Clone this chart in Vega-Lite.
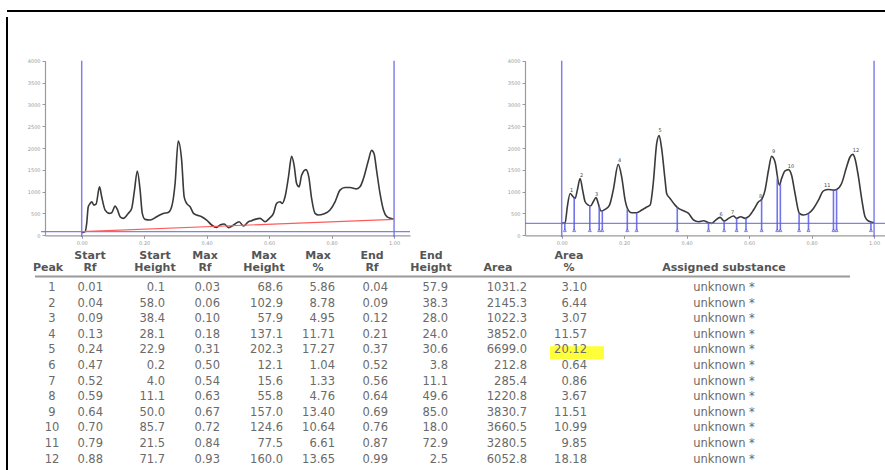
{
  "$schema": "https://vega.github.io/schema/vega-lite/v6.json",
  "width": 878,
  "height": 459,
  "autosize": "none",
  "padding": {"left": 7, "top": 11, "right": 0, "bottom": 0},
  "background": "#ffffff",
  "config": {
    "view": {"stroke": null},
    "text": {"font": "DejaVu Sans"},
    "axis": {"labelFont": "DejaVu Sans", "labelFontSize": 5, "labelColor": "#9a9a9a", "domainColor": "#9a9a9a", "tickColor": "#9a9a9a", "tickSize": 3, "labelPadding": 2, "grid": false, "domainWidth": 1.2}
  },
  "datasets": {
    "curveL": [
      {"rf": 0, "v": 61}, {"rf": 0.011, "v": 84}, {"rf": 0.016, "v": 274}, {"rf": 0.021, "v": 654}, {"rf": 0.027, "v": 730}, {"rf": 0.032, "v": 768}, {"rf": 0.039, "v": 692}, {"rf": 0.046, "v": 714}, {"rf": 0.057, "v": 1110}, {"rf": 0.064, "v": 882}, {"rf": 0.075, "v": 578}, {"rf": 0.089, "v": 502}, {"rf": 0.096, "v": 517}, {"rf": 0.107, "v": 669}, {"rf": 0.114, "v": 593}, {"rf": 0.123, "v": 426}, {"rf": 0.133, "v": 388}, {"rf": 0.149, "v": 502}, {"rf": 0.16, "v": 616}, {"rf": 0.169, "v": 1034}, {"rf": 0.178, "v": 1474}, {"rf": 0.187, "v": 1034}, {"rf": 0.194, "v": 502}, {"rf": 0.203, "v": 365}, {"rf": 0.219, "v": 350}, {"rf": 0.24, "v": 426}, {"rf": 0.261, "v": 502}, {"rf": 0.277, "v": 524}, {"rf": 0.288, "v": 654}, {"rf": 0.299, "v": 1186}, {"rf": 0.309, "v": 2158}, {"rf": 0.32, "v": 1718}, {"rf": 0.328, "v": 882}, {"rf": 0.336, "v": 730}, {"rf": 0.347, "v": 654}, {"rf": 0.358, "v": 502}, {"rf": 0.368, "v": 464}, {"rf": 0.384, "v": 426}, {"rf": 0.4, "v": 350}, {"rf": 0.416, "v": 236}, {"rf": 0.432, "v": 182}, {"rf": 0.443, "v": 236}, {"rf": 0.456, "v": 258}, {"rf": 0.47, "v": 175}, {"rf": 0.486, "v": 236}, {"rf": 0.504, "v": 312}, {"rf": 0.518, "v": 213}, {"rf": 0.534, "v": 312}, {"rf": 0.544, "v": 334}, {"rf": 0.555, "v": 365}, {"rf": 0.571, "v": 388}, {"rf": 0.587, "v": 312}, {"rf": 0.601, "v": 388}, {"rf": 0.614, "v": 502}, {"rf": 0.624, "v": 730}, {"rf": 0.635, "v": 768}, {"rf": 0.642, "v": 730}, {"rf": 0.651, "v": 882}, {"rf": 0.662, "v": 1338}, {"rf": 0.672, "v": 1809}, {"rf": 0.68, "v": 1604}, {"rf": 0.688, "v": 1186}, {"rf": 0.696, "v": 1110}, {"rf": 0.704, "v": 1376}, {"rf": 0.718, "v": 1505}, {"rf": 0.727, "v": 1338}, {"rf": 0.736, "v": 844}, {"rf": 0.747, "v": 502}, {"rf": 0.758, "v": 464}, {"rf": 0.774, "v": 486}, {"rf": 0.795, "v": 578}, {"rf": 0.811, "v": 768}, {"rf": 0.827, "v": 1034}, {"rf": 0.843, "v": 1094}, {"rf": 0.859, "v": 1094}, {"rf": 0.88, "v": 1064}, {"rf": 0.891, "v": 1110}, {"rf": 0.902, "v": 1300}, {"rf": 0.918, "v": 1718}, {"rf": 0.928, "v": 1946}, {"rf": 0.936, "v": 1870}, {"rf": 0.944, "v": 1490}, {"rf": 0.955, "v": 958}, {"rf": 0.966, "v": 578}, {"rf": 0.977, "v": 426}, {"rf": 0.989, "v": 388}, {"rf": 1.0, "v": 365}
    ],
    "curveR": [
      {"rf": 0, "v": 274}, {"rf": 0.011, "v": 289}, {"rf": 0.018, "v": 654}, {"rf": 0.027, "v": 958}, {"rf": 0.035, "v": 897}, {"rf": 0.043, "v": 844}, {"rf": 0.05, "v": 1034}, {"rf": 0.059, "v": 1300}, {"rf": 0.067, "v": 1034}, {"rf": 0.075, "v": 768}, {"rf": 0.085, "v": 692}, {"rf": 0.093, "v": 676}, {"rf": 0.101, "v": 768}, {"rf": 0.11, "v": 866}, {"rf": 0.117, "v": 730}, {"rf": 0.126, "v": 555}, {"rf": 0.139, "v": 593}, {"rf": 0.153, "v": 692}, {"rf": 0.165, "v": 1034}, {"rf": 0.181, "v": 1626}, {"rf": 0.192, "v": 1338}, {"rf": 0.203, "v": 806}, {"rf": 0.213, "v": 578}, {"rf": 0.224, "v": 517}, {"rf": 0.24, "v": 517}, {"rf": 0.256, "v": 578}, {"rf": 0.27, "v": 638}, {"rf": 0.283, "v": 692}, {"rf": 0.293, "v": 1186}, {"rf": 0.304, "v": 2098}, {"rf": 0.312, "v": 2288}, {"rf": 0.32, "v": 1984}, {"rf": 0.331, "v": 1262}, {"rf": 0.336, "v": 958}, {"rf": 0.347, "v": 844}, {"rf": 0.363, "v": 692}, {"rf": 0.374, "v": 616}, {"rf": 0.39, "v": 562}, {"rf": 0.406, "v": 502}, {"rf": 0.422, "v": 350}, {"rf": 0.438, "v": 312}, {"rf": 0.454, "v": 334}, {"rf": 0.47, "v": 289}, {"rf": 0.48, "v": 274}, {"rf": 0.491, "v": 334}, {"rf": 0.507, "v": 410}, {"rf": 0.52, "v": 327}, {"rf": 0.534, "v": 388}, {"rf": 0.55, "v": 441}, {"rf": 0.56, "v": 388}, {"rf": 0.573, "v": 426}, {"rf": 0.587, "v": 388}, {"rf": 0.598, "v": 426}, {"rf": 0.614, "v": 578}, {"rf": 0.63, "v": 768}, {"rf": 0.64, "v": 821}, {"rf": 0.651, "v": 1034}, {"rf": 0.662, "v": 1490}, {"rf": 0.672, "v": 1809}, {"rf": 0.683, "v": 1680}, {"rf": 0.697, "v": 1148}, {"rf": 0.704, "v": 1300}, {"rf": 0.715, "v": 1474}, {"rf": 0.726, "v": 1505}, {"rf": 0.736, "v": 1376}, {"rf": 0.747, "v": 958}, {"rf": 0.761, "v": 502}, {"rf": 0.774, "v": 464}, {"rf": 0.79, "v": 502}, {"rf": 0.806, "v": 616}, {"rf": 0.822, "v": 806}, {"rf": 0.838, "v": 1018}, {"rf": 0.854, "v": 1049}, {"rf": 0.87, "v": 1034}, {"rf": 0.88, "v": 1049}, {"rf": 0.896, "v": 1186}, {"rf": 0.912, "v": 1566}, {"rf": 0.923, "v": 1794}, {"rf": 0.932, "v": 1854}, {"rf": 0.939, "v": 1756}, {"rf": 0.95, "v": 1338}, {"rf": 0.961, "v": 806}, {"rf": 0.971, "v": 426}, {"rf": 0.982, "v": 327}, {"rf": 1.0, "v": 289}
    ],
    "bounds": [
      {"rf": 0.01, "lo": 115, "h": 289}, {"rf": 0.04, "lo": 115, "h": 860}, {"rf": 0.09, "lo": 115, "h": 690}, {"rf": 0.12, "lo": 115, "h": 670}, {"rf": 0.13, "lo": 115, "h": 570}, {"rf": 0.21, "lo": 115, "h": 600}, {"rf": 0.24, "lo": 115, "h": 517}, {"rf": 0.37, "lo": 115, "h": 640}, {"rf": 0.47, "lo": 115, "h": 289}, {"rf": 0.52, "lo": 115, "h": 327}, {"rf": 0.56, "lo": 115, "h": 388}, {"rf": 0.59, "lo": 115, "h": 400}, {"rf": 0.64, "lo": 115, "h": 821}, {"rf": 0.69, "lo": 115, "h": 1300}, {"rf": 0.7, "lo": 115, "h": 1180}, {"rf": 0.76, "lo": 115, "h": 502}, {"rf": 0.79, "lo": 115, "h": 502}, {"rf": 0.87, "lo": 115, "h": 1034}, {"rf": 0.88, "lo": 115, "h": 1049}, {"rf": 0.99, "lo": 115, "h": 300}
    ],
    "frontLines": [
      {"rf": 0, "lo": -40, "hi": 4000}, {"rf": 1, "lo": -40, "hi": 4000}
    ],
    "peakLabels": [
      {"n": "1", "rf": 0.032, "v": 1049}, {"n": "2", "rf": 0.064, "v": 1376}, {"n": "3", "rf": 0.112, "v": 942}, {"n": "4", "rf": 0.185, "v": 1718}, {"n": "5", "rf": 0.315, "v": 2403}, {"n": "6", "rf": 0.51, "v": 479}, {"n": "7", "rf": 0.547, "v": 524}, {"n": "8", "rf": 0.637, "v": 904}, {"n": "9", "rf": 0.678, "v": 1923}, {"n": "10", "rf": 0.734, "v": 1589}, {"n": "11", "rf": 0.85, "v": 1148}, {"n": "12", "rf": 0.942, "v": 1961}
    ],
    "peaks": [
      {"Peak": 1, "StartRf": 0.01, "StartHeight": 0.1, "MaxRf": 0.03, "MaxHeight": 68.6, "MaxPct": 5.86, "EndRf": 0.04, "EndHeight": 57.9, "Area": 1031.2, "AreaPct": 3.10, "Assigned": "unknown *"},
      {"Peak": 2, "StartRf": 0.04, "StartHeight": 58.0, "MaxRf": 0.06, "MaxHeight": 102.9, "MaxPct": 8.78, "EndRf": 0.09, "EndHeight": 38.3, "Area": 2145.3, "AreaPct": 6.44, "Assigned": "unknown *"},
      {"Peak": 3, "StartRf": 0.09, "StartHeight": 38.4, "MaxRf": 0.10, "MaxHeight": 57.9, "MaxPct": 4.95, "EndRf": 0.12, "EndHeight": 28.0, "Area": 1022.3, "AreaPct": 3.07, "Assigned": "unknown *"},
      {"Peak": 4, "StartRf": 0.13, "StartHeight": 28.1, "MaxRf": 0.18, "MaxHeight": 137.1, "MaxPct": 11.71, "EndRf": 0.21, "EndHeight": 24.0, "Area": 3852.0, "AreaPct": 11.57, "Assigned": "unknown *"},
      {"Peak": 5, "StartRf": 0.24, "StartHeight": 22.9, "MaxRf": 0.31, "MaxHeight": 202.3, "MaxPct": 17.27, "EndRf": 0.37, "EndHeight": 30.6, "Area": 6699.0, "AreaPct": 20.12, "Assigned": "unknown *"},
      {"Peak": 6, "StartRf": 0.47, "StartHeight": 0.2, "MaxRf": 0.50, "MaxHeight": 12.1, "MaxPct": 1.04, "EndRf": 0.52, "EndHeight": 3.8, "Area": 212.8, "AreaPct": 0.64, "Assigned": "unknown *"},
      {"Peak": 7, "StartRf": 0.52, "StartHeight": 4.0, "MaxRf": 0.54, "MaxHeight": 15.6, "MaxPct": 1.33, "EndRf": 0.56, "EndHeight": 11.1, "Area": 285.4, "AreaPct": 0.86, "Assigned": "unknown *"},
      {"Peak": 8, "StartRf": 0.59, "StartHeight": 11.1, "MaxRf": 0.63, "MaxHeight": 55.8, "MaxPct": 4.76, "EndRf": 0.64, "EndHeight": 49.6, "Area": 1220.8, "AreaPct": 3.67, "Assigned": "unknown *"},
      {"Peak": 9, "StartRf": 0.64, "StartHeight": 50.0, "MaxRf": 0.67, "MaxHeight": 157.0, "MaxPct": 13.40, "EndRf": 0.69, "EndHeight": 85.0, "Area": 3830.7, "AreaPct": 11.51, "Assigned": "unknown *"},
      {"Peak": 10, "StartRf": 0.70, "StartHeight": 85.7, "MaxRf": 0.72, "MaxHeight": 124.6, "MaxPct": 10.64, "EndRf": 0.76, "EndHeight": 18.0, "Area": 3660.5, "AreaPct": 10.99, "Assigned": "unknown *"},
      {"Peak": 11, "StartRf": 0.79, "StartHeight": 21.5, "MaxRf": 0.84, "MaxHeight": 77.5, "MaxPct": 6.61, "EndRf": 0.87, "EndHeight": 72.9, "Area": 3280.5, "AreaPct": 9.85, "Assigned": "unknown *"},
      {"Peak": 12, "StartRf": 0.88, "StartHeight": 71.7, "MaxRf": 0.93, "MaxHeight": 160.0, "MaxPct": 13.65, "EndRf": 0.99, "EndHeight": 2.5, "Area": 6052.8, "AreaPct": 18.18, "Assigned": "unknown *"}
    ]
  },
  "layer": [
    {
      "data": {"values": [{"side": "top"}]},
      "mark": {"type": "tick", "orient": "horizontal", "color": "#000000", "opacity": 1, "size": 890, "thickness": 2},
      "encoding": {
        "x": {"datum": 452, "type": "quantitative", "scale": {"domainMin": 0, "domainMax": 885, "range": [-7, 878], "nice": false, "zero": false}, "axis": null},
        "y": {"datum": -16.756, "type": "quantitative", "scale": {"domainMin": 1, "domainMax": 12, "range": [277, 448.6], "nice": false, "zero": false}, "axis": null}
      }
    },
    {
      "data": {"values": [{"side": "left"}]},
      "mark": {"type": "tick", "orient": "vertical", "color": "#000000", "opacity": 1, "size": 470, "thickness": 2},
      "encoding": {
        "x": {"datum": 7, "type": "quantitative", "scale": {"domainMin": 0, "domainMax": 885, "range": [-7, 878], "nice": false, "zero": false}, "axis": null},
        "y": {"datum": -1.3, "type": "quantitative", "scale": {"domainMin": 1, "domainMax": 12, "range": [277, 448.6], "nice": false, "zero": false}, "axis": null}
      }
    },
    {
      "data": {"name": "curveL"},
      "mark": {"type": "line", "interpolate": "monotone", "color": "#3a3a3a", "strokeWidth": 1.6},
      "encoding": {
        "x": {"field": "rf", "type": "quantitative", "title": null,
          "scale": {"domainMin": -0.1175, "domainMax": 1.051, "range": [38, 403], "nice": false, "zero": false},
          "axis": {"orient": "bottom", "offset": -234.7, "values": [0, 0.2, 0.4, 0.6, 0.8, 1.0], "format": ".2f"}},
        "y": {"field": "v", "type": "quantitative", "title": null,
          "scale": {"domainMin": 0, "domainMax": 4000, "range": [224.3, 49.7], "nice": false, "zero": false},
          "axis": {"orient": "left", "offset": -38, "values": [0, 500, 1000, 1500, 2000, 2500, 3000, 3500, 4000], "format": "d"}}
      }
    },
    {
      "data": {"values": [{"rf": -0.13, "v": 84}, {"rf": 1.051, "v": 84}]},
      "mark": {"type": "line", "color": "#6b6bea", "strokeWidth": 1.3, "opacity": 0.85},
      "encoding": {
        "x": {"field": "rf", "type": "quantitative", "scale": {"domainMin": -0.1175, "domainMax": 1.051, "range": [38, 403], "nice": false, "zero": false}, "axis": null},
        "y": {"field": "v", "type": "quantitative", "scale": {"domainMin": 0, "domainMax": 4000, "range": [224.3, 49.7], "nice": false, "zero": false}, "axis": null}
      }
    },
    {
      "data": {"name": "frontLines"},
      "mark": {"type": "rule", "color": "#6b6bea", "strokeWidth": 1.5, "opacity": 0.85},
      "encoding": {
        "x": {"field": "rf", "type": "quantitative", "scale": {"domainMin": -0.1175, "domainMax": 1.051, "range": [38, 403], "nice": false, "zero": false}, "axis": null},
        "y": {"field": "lo", "type": "quantitative", "scale": {"domainMin": 0, "domainMax": 4000, "range": [224.3, 49.7], "nice": false, "zero": false}, "axis": null},
        "y2": {"field": "hi"}
      }
    },
    {
      "data": {"values": [{"rf": 0, "v": 84}, {"rf": 1, "v": 365}]},
      "mark": {"type": "line", "color": "#ff5a5a", "strokeWidth": 1.1},
      "encoding": {
        "x": {"field": "rf", "type": "quantitative", "scale": {"domainMin": -0.1175, "domainMax": 1.051, "range": [38, 403], "nice": false, "zero": false}, "axis": null},
        "y": {"field": "v", "type": "quantitative", "scale": {"domainMin": 0, "domainMax": 4000, "range": [224.3, 49.7], "nice": false, "zero": false}, "axis": null}
      }
    },
    {
      "data": {"name": "curveR"},
      "mark": {"type": "line", "interpolate": "monotone", "color": "#3a3a3a", "strokeWidth": 1.6},
      "encoding": {
        "x": {"field": "rf", "type": "quantitative", "title": null,
          "scale": {"domainMin": -0.1175, "domainMax": 1.035, "range": [518, 878], "nice": false, "zero": false},
          "axis": {"orient": "bottom", "offset": -234.7, "values": [0, 0.2, 0.4, 0.6, 0.8, 1.0], "format": ".2f"}},
        "y": {"field": "v", "type": "quantitative", "title": null,
          "scale": {"domainMin": 0, "domainMax": 4000, "range": [224.3, 49.7], "nice": false, "zero": false},
          "axis": {"orient": "left", "offset": -518, "values": [0, 500, 1000, 1500, 2000, 2500, 3000, 3500, 4000], "format": "d"}}
      }
    },
    {
      "data": {"values": [{"rf": -0.1175, "v": 274}, {"rf": 1.035, "v": 274}]},
      "mark": {"type": "line", "color": "#6b6bea", "strokeWidth": 1.3, "opacity": 0.85},
      "encoding": {
        "x": {"field": "rf", "type": "quantitative", "scale": {"domainMin": -0.1175, "domainMax": 1.035, "range": [518, 878], "nice": false, "zero": false}, "axis": null},
        "y": {"field": "v", "type": "quantitative", "scale": {"domainMin": 0, "domainMax": 4000, "range": [224.3, 49.7], "nice": false, "zero": false}, "axis": null}
      }
    },
    {
      "data": {"name": "frontLines"},
      "mark": {"type": "rule", "color": "#6b6bea", "strokeWidth": 1.5, "opacity": 0.85},
      "encoding": {
        "x": {"field": "rf", "type": "quantitative", "scale": {"domainMin": -0.1175, "domainMax": 1.035, "range": [518, 878], "nice": false, "zero": false}, "axis": null},
        "y": {"field": "lo", "type": "quantitative", "scale": {"domainMin": 0, "domainMax": 4000, "range": [224.3, 49.7], "nice": false, "zero": false}, "axis": null},
        "y2": {"field": "hi"}
      }
    },
    {
      "data": {"name": "bounds"},
      "mark": {"type": "rule", "color": "#5a5ae6", "strokeWidth": 1.6, "opacity": 0.85},
      "encoding": {
        "x": {"field": "rf", "type": "quantitative", "scale": {"domainMin": -0.1175, "domainMax": 1.035, "range": [518, 878], "nice": false, "zero": false}, "axis": null},
        "y": {"field": "lo", "type": "quantitative", "scale": {"domainMin": 0, "domainMax": 4000, "range": [224.3, 49.7], "nice": false, "zero": false}, "axis": null},
        "y2": {"field": "h"}
      }
    },
    {
      "data": {"name": "bounds"},
      "mark": {"type": "point", "shape": "triangle-up", "size": 9, "filled": false, "color": "#5a5ae6", "strokeWidth": 0.8, "opacity": 0.9},
      "encoding": {
        "x": {"field": "rf", "type": "quantitative", "scale": {"domainMin": -0.1175, "domainMax": 1.035, "range": [518, 878], "nice": false, "zero": false}, "axis": null},
        "y": {"field": "lo", "type": "quantitative", "scale": {"domainMin": 0, "domainMax": 4000, "range": [224.3, 49.7], "nice": false, "zero": false}, "axis": null}
      }
    },
    {
      "data": {"name": "peakLabels"},
      "mark": {"type": "text", "fontSize": 5, "color": "#444444", "baseline": "middle", "align": "center"},
      "encoding": {
        "x": {"field": "rf", "type": "quantitative", "scale": {"domainMin": -0.1175, "domainMax": 1.035, "range": [518, 878], "nice": false, "zero": false}, "axis": null},
        "y": {"field": "v", "type": "quantitative", "scale": {"domainMin": 0, "domainMax": 4000, "range": [224.3, 49.7], "nice": false, "zero": false}, "axis": null},
        "text": {"field": "n", "type": "nominal"}
      }
    },
    {
      "data": {"name": "peaks"},
      "transform": [{"filter": "datum.Peak == 5"}],
      "mark": {"type": "tick", "orient": "horizontal", "color": "#ffff2e", "opacity": 0.95, "size": 54, "thickness": 13},
      "encoding": {
        "x": {"datum": 577, "type": "quantitative", "scale": {"domainMin": 0, "domainMax": 885, "range": [-7, 878], "nice": false, "zero": false}, "axis": null},
        "y": {"datum": 5.15, "type": "quantitative", "scale": {"domainMin": 1, "domainMax": 12, "range": [277, 448.6], "nice": false, "zero": false}, "axis": null}
      }
    },
    {
      "data": {"values": [{"s": "underline"}]},
      "mark": {"type": "tick", "orient": "horizontal", "color": "#9a9a9a", "opacity": 1, "size": 815, "thickness": 2},
      "encoding": {
        "x": {"datum": 442.5, "type": "quantitative", "scale": {"domainMin": 0, "domainMax": 885, "range": [-7, 878], "nice": false, "zero": false}, "axis": null},
        "y": {"datum": 0.263, "type": "quantitative", "scale": {"domainMin": 1, "domainMax": 12, "range": [277, 448.6], "nice": false, "zero": false}, "axis": null}
      }
    },
    {"data": {"values": [{"h": "\nPeak"}]}, "mark": {"type": "text", "fontSize": 11, "fontWeight": "bold", "color": "#555555", "lineBreak": "\n", "lineHeight": 11.5, "align": "center", "baseline": "middle"}, "encoding": {"x": {"datum": 48, "type": "quantitative", "scale": {"domainMin": 0, "domainMax": 885, "range": [-7, 878], "nice": false, "zero": false}, "axis": null}, "y": {"datum": -1.051, "type": "quantitative", "scale": {"domainMin": 1, "domainMax": 12, "range": [277, 448.6], "nice": false, "zero": false}, "axis": null}, "text": {"field": "h", "type": "nominal"}}},
    {"data": {"values": [{"h": "Start\nRf"}]}, "mark": {"type": "text", "fontSize": 11, "fontWeight": "bold", "color": "#555555", "lineBreak": "\n", "lineHeight": 11.5, "align": "center", "baseline": "middle"}, "encoding": {"x": {"datum": 90, "type": "quantitative", "scale": {"domainMin": 0, "domainMax": 885, "range": [-7, 878], "nice": false, "zero": false}, "axis": null}, "y": {"datum": -1.051, "type": "quantitative", "scale": {"domainMin": 1, "domainMax": 12, "range": [277, 448.6], "nice": false, "zero": false}, "axis": null}, "text": {"field": "h", "type": "nominal"}}},
    {"data": {"values": [{"h": "Start\nHeight"}]}, "mark": {"type": "text", "fontSize": 11, "fontWeight": "bold", "color": "#555555", "lineBreak": "\n", "lineHeight": 11.5, "align": "center", "baseline": "middle"}, "encoding": {"x": {"datum": 155, "type": "quantitative", "scale": {"domainMin": 0, "domainMax": 885, "range": [-7, 878], "nice": false, "zero": false}, "axis": null}, "y": {"datum": -1.051, "type": "quantitative", "scale": {"domainMin": 1, "domainMax": 12, "range": [277, 448.6], "nice": false, "zero": false}, "axis": null}, "text": {"field": "h", "type": "nominal"}}},
    {"data": {"values": [{"h": "Max\nRf"}]}, "mark": {"type": "text", "fontSize": 11, "fontWeight": "bold", "color": "#555555", "lineBreak": "\n", "lineHeight": 11.5, "align": "center", "baseline": "middle"}, "encoding": {"x": {"datum": 205, "type": "quantitative", "scale": {"domainMin": 0, "domainMax": 885, "range": [-7, 878], "nice": false, "zero": false}, "axis": null}, "y": {"datum": -1.051, "type": "quantitative", "scale": {"domainMin": 1, "domainMax": 12, "range": [277, 448.6], "nice": false, "zero": false}, "axis": null}, "text": {"field": "h", "type": "nominal"}}},
    {"data": {"values": [{"h": "Max\nHeight"}]}, "mark": {"type": "text", "fontSize": 11, "fontWeight": "bold", "color": "#555555", "lineBreak": "\n", "lineHeight": 11.5, "align": "center", "baseline": "middle"}, "encoding": {"x": {"datum": 264, "type": "quantitative", "scale": {"domainMin": 0, "domainMax": 885, "range": [-7, 878], "nice": false, "zero": false}, "axis": null}, "y": {"datum": -1.051, "type": "quantitative", "scale": {"domainMin": 1, "domainMax": 12, "range": [277, 448.6], "nice": false, "zero": false}, "axis": null}, "text": {"field": "h", "type": "nominal"}}},
    {"data": {"values": [{"h": "Max\n%"}]}, "mark": {"type": "text", "fontSize": 11, "fontWeight": "bold", "color": "#555555", "lineBreak": "\n", "lineHeight": 11.5, "align": "center", "baseline": "middle"}, "encoding": {"x": {"datum": 318, "type": "quantitative", "scale": {"domainMin": 0, "domainMax": 885, "range": [-7, 878], "nice": false, "zero": false}, "axis": null}, "y": {"datum": -1.051, "type": "quantitative", "scale": {"domainMin": 1, "domainMax": 12, "range": [277, 448.6], "nice": false, "zero": false}, "axis": null}, "text": {"field": "h", "type": "nominal"}}},
    {"data": {"values": [{"h": "End\nRf"}]}, "mark": {"type": "text", "fontSize": 11, "fontWeight": "bold", "color": "#555555", "lineBreak": "\n", "lineHeight": 11.5, "align": "center", "baseline": "middle"}, "encoding": {"x": {"datum": 372, "type": "quantitative", "scale": {"domainMin": 0, "domainMax": 885, "range": [-7, 878], "nice": false, "zero": false}, "axis": null}, "y": {"datum": -1.051, "type": "quantitative", "scale": {"domainMin": 1, "domainMax": 12, "range": [277, 448.6], "nice": false, "zero": false}, "axis": null}, "text": {"field": "h", "type": "nominal"}}},
    {"data": {"values": [{"h": "End\nHeight"}]}, "mark": {"type": "text", "fontSize": 11, "fontWeight": "bold", "color": "#555555", "lineBreak": "\n", "lineHeight": 11.5, "align": "center", "baseline": "middle"}, "encoding": {"x": {"datum": 431, "type": "quantitative", "scale": {"domainMin": 0, "domainMax": 885, "range": [-7, 878], "nice": false, "zero": false}, "axis": null}, "y": {"datum": -1.051, "type": "quantitative", "scale": {"domainMin": 1, "domainMax": 12, "range": [277, 448.6], "nice": false, "zero": false}, "axis": null}, "text": {"field": "h", "type": "nominal"}}},
    {"data": {"values": [{"h": "\nArea"}]}, "mark": {"type": "text", "fontSize": 11, "fontWeight": "bold", "color": "#555555", "lineBreak": "\n", "lineHeight": 11.5, "align": "center", "baseline": "middle"}, "encoding": {"x": {"datum": 498, "type": "quantitative", "scale": {"domainMin": 0, "domainMax": 885, "range": [-7, 878], "nice": false, "zero": false}, "axis": null}, "y": {"datum": -1.051, "type": "quantitative", "scale": {"domainMin": 1, "domainMax": 12, "range": [277, 448.6], "nice": false, "zero": false}, "axis": null}, "text": {"field": "h", "type": "nominal"}}},
    {"data": {"values": [{"h": "Area\n%"}]}, "mark": {"type": "text", "fontSize": 11, "fontWeight": "bold", "color": "#555555", "lineBreak": "\n", "lineHeight": 11.5, "align": "center", "baseline": "middle"}, "encoding": {"x": {"datum": 569, "type": "quantitative", "scale": {"domainMin": 0, "domainMax": 885, "range": [-7, 878], "nice": false, "zero": false}, "axis": null}, "y": {"datum": -1.051, "type": "quantitative", "scale": {"domainMin": 1, "domainMax": 12, "range": [277, 448.6], "nice": false, "zero": false}, "axis": null}, "text": {"field": "h", "type": "nominal"}}},
    {"data": {"values": [{"h": "\nAssigned substance"}]}, "mark": {"type": "text", "fontSize": 11, "fontWeight": "bold", "color": "#555555", "lineBreak": "\n", "lineHeight": 11.5, "align": "center", "baseline": "middle"}, "encoding": {"x": {"datum": 724, "type": "quantitative", "scale": {"domainMin": 0, "domainMax": 885, "range": [-7, 878], "nice": false, "zero": false}, "axis": null}, "y": {"datum": -1.051, "type": "quantitative", "scale": {"domainMin": 1, "domainMax": 12, "range": [277, 448.6], "nice": false, "zero": false}, "axis": null}, "text": {"field": "h", "type": "nominal"}}},
    {"data": {"name": "peaks"}, "mark": {"type": "text", "fontSize": 11.5, "color": "#6a6a6a", "align": "center", "baseline": "middle"}, "encoding": {"x": {"datum": 52, "type": "quantitative", "scale": {"domainMin": 0, "domainMax": 885, "range": [-7, 878], "nice": false, "zero": false}, "axis": null}, "y": {"field": "Peak", "type": "quantitative", "scale": {"domainMin": 1, "domainMax": 12, "range": [277, 448.6], "nice": false, "zero": false}, "axis": null}, "text": {"field": "Peak", "type": "quantitative", "format": "d"}}},
    {"data": {"name": "peaks"}, "mark": {"type": "text", "fontSize": 11.5, "color": "#6a6a6a", "align": "right", "baseline": "middle"}, "encoding": {"x": {"datum": 103, "type": "quantitative", "scale": {"domainMin": 0, "domainMax": 885, "range": [-7, 878], "nice": false, "zero": false}, "axis": null}, "y": {"field": "Peak", "type": "quantitative", "scale": {"domainMin": 1, "domainMax": 12, "range": [277, 448.6], "nice": false, "zero": false}, "axis": null}, "text": {"field": "StartRf", "type": "quantitative", "format": ".2f"}}},
    {"data": {"name": "peaks"}, "mark": {"type": "text", "fontSize": 11.5, "color": "#6a6a6a", "align": "right", "baseline": "middle"}, "encoding": {"x": {"datum": 165, "type": "quantitative", "scale": {"domainMin": 0, "domainMax": 885, "range": [-7, 878], "nice": false, "zero": false}, "axis": null}, "y": {"field": "Peak", "type": "quantitative", "scale": {"domainMin": 1, "domainMax": 12, "range": [277, 448.6], "nice": false, "zero": false}, "axis": null}, "text": {"field": "StartHeight", "type": "quantitative", "format": ".1f"}}},
    {"data": {"name": "peaks"}, "mark": {"type": "text", "fontSize": 11.5, "color": "#6a6a6a", "align": "right", "baseline": "middle"}, "encoding": {"x": {"datum": 220, "type": "quantitative", "scale": {"domainMin": 0, "domainMax": 885, "range": [-7, 878], "nice": false, "zero": false}, "axis": null}, "y": {"field": "Peak", "type": "quantitative", "scale": {"domainMin": 1, "domainMax": 12, "range": [277, 448.6], "nice": false, "zero": false}, "axis": null}, "text": {"field": "MaxRf", "type": "quantitative", "format": ".2f"}}},
    {"data": {"name": "peaks"}, "mark": {"type": "text", "fontSize": 11.5, "color": "#6a6a6a", "align": "right", "baseline": "middle"}, "encoding": {"x": {"datum": 283, "type": "quantitative", "scale": {"domainMin": 0, "domainMax": 885, "range": [-7, 878], "nice": false, "zero": false}, "axis": null}, "y": {"field": "Peak", "type": "quantitative", "scale": {"domainMin": 1, "domainMax": 12, "range": [277, 448.6], "nice": false, "zero": false}, "axis": null}, "text": {"field": "MaxHeight", "type": "quantitative", "format": ".1f"}}},
    {"data": {"name": "peaks"}, "mark": {"type": "text", "fontSize": 11.5, "color": "#6a6a6a", "align": "right", "baseline": "middle"}, "encoding": {"x": {"datum": 335, "type": "quantitative", "scale": {"domainMin": 0, "domainMax": 885, "range": [-7, 878], "nice": false, "zero": false}, "axis": null}, "y": {"field": "Peak", "type": "quantitative", "scale": {"domainMin": 1, "domainMax": 12, "range": [277, 448.6], "nice": false, "zero": false}, "axis": null}, "text": {"field": "MaxPct", "type": "quantitative", "format": ".2f"}}},
    {"data": {"name": "peaks"}, "mark": {"type": "text", "fontSize": 11.5, "color": "#6a6a6a", "align": "right", "baseline": "middle"}, "encoding": {"x": {"datum": 388, "type": "quantitative", "scale": {"domainMin": 0, "domainMax": 885, "range": [-7, 878], "nice": false, "zero": false}, "axis": null}, "y": {"field": "Peak", "type": "quantitative", "scale": {"domainMin": 1, "domainMax": 12, "range": [277, 448.6], "nice": false, "zero": false}, "axis": null}, "text": {"field": "EndRf", "type": "quantitative", "format": ".2f"}}},
    {"data": {"name": "peaks"}, "mark": {"type": "text", "fontSize": 11.5, "color": "#6a6a6a", "align": "right", "baseline": "middle"}, "encoding": {"x": {"datum": 448, "type": "quantitative", "scale": {"domainMin": 0, "domainMax": 885, "range": [-7, 878], "nice": false, "zero": false}, "axis": null}, "y": {"field": "Peak", "type": "quantitative", "scale": {"domainMin": 1, "domainMax": 12, "range": [277, 448.6], "nice": false, "zero": false}, "axis": null}, "text": {"field": "EndHeight", "type": "quantitative", "format": ".1f"}}},
    {"data": {"name": "peaks"}, "mark": {"type": "text", "fontSize": 11.5, "color": "#6a6a6a", "align": "right", "baseline": "middle"}, "encoding": {"x": {"datum": 527, "type": "quantitative", "scale": {"domainMin": 0, "domainMax": 885, "range": [-7, 878], "nice": false, "zero": false}, "axis": null}, "y": {"field": "Peak", "type": "quantitative", "scale": {"domainMin": 1, "domainMax": 12, "range": [277, 448.6], "nice": false, "zero": false}, "axis": null}, "text": {"field": "Area", "type": "quantitative", "format": ".1f"}}},
    {"data": {"name": "peaks"}, "mark": {"type": "text", "fontSize": 11.5, "color": "#6a6a6a", "align": "right", "baseline": "middle"}, "encoding": {"x": {"datum": 587, "type": "quantitative", "scale": {"domainMin": 0, "domainMax": 885, "range": [-7, 878], "nice": false, "zero": false}, "axis": null}, "y": {"field": "Peak", "type": "quantitative", "scale": {"domainMin": 1, "domainMax": 12, "range": [277, 448.6], "nice": false, "zero": false}, "axis": null}, "text": {"field": "AreaPct", "type": "quantitative", "format": ".2f"}}},
    {"data": {"name": "peaks"}, "mark": {"type": "text", "fontSize": 11.5, "color": "#6a6a6a", "align": "center", "baseline": "middle"}, "encoding": {"x": {"datum": 724, "type": "quantitative", "scale": {"domainMin": 0, "domainMax": 885, "range": [-7, 878], "nice": false, "zero": false}, "axis": null}, "y": {"field": "Peak", "type": "quantitative", "scale": {"domainMin": 1, "domainMax": 12, "range": [277, 448.6], "nice": false, "zero": false}, "axis": null}, "text": {"field": "Assigned", "type": "nominal"}}}
  ],
  "resolve": {"scale": {"x": "independent", "y": "independent"}, "axis": {"x": "independent", "y": "independent"}}
}
